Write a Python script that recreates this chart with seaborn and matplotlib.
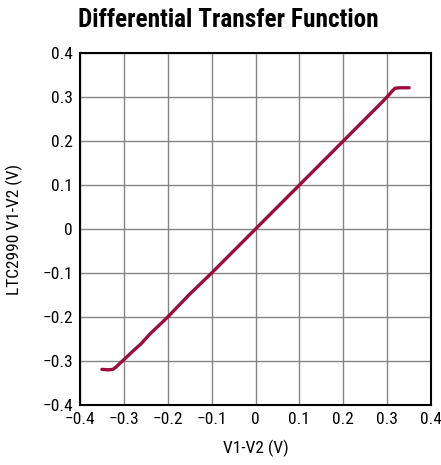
import numpy as np
import pandas as pd
import matplotlib
matplotlib.use("Agg")
import matplotlib.pyplot as plt
import seaborn as sns

# values
v_in = [-0.350, -0.335, -0.325, -0.318, -0.310, -0.300, -0.280, -0.260, -0.240,
        -0.200, -0.150, -0.100, -0.050, 0.000, 0.050, 0.100, 0.150, 0.200,
        0.250, 0.290, 0.305, 0.312, 0.318, 0.330, 0.350]
v_out = [-0.319, -0.320, -0.319, -0.314, -0.306, -0.297, -0.278, -0.260, -0.238,
         -0.200, -0.148, -0.100, -0.050, 0.000, 0.050, 0.100, 0.150, 0.200,
         0.250, 0.290, 0.306, 0.314, 0.320, 0.321, 0.321]
ticks = [-0.4, -0.3, -0.2, -0.1, 0, 0.1, 0.2, 0.3, 0.4]
tick_labels = ["\u22120.4", "\u22120.3", "\u22120.2", "\u22120.1", "0",
               "0.1", "0.2", "0.3", "0.4"]

sns.set_style("white")
plt.rcParams["font.family"] = ["Roboto Condensed", "DejaVu Sans"]
plt.rcParams["text.color"] = "black"
plt.rcParams["axes.labelcolor"] = "black"
plt.rcParams["xtick.color"] = "black"
plt.rcParams["ytick.color"] = "black"

df = pd.DataFrame({"x": v_in, "y": v_out})

fig = plt.figure(figsize=(4.41, 4.65), dpi=100)
ax = fig.add_axes([0.1814, 0.129, 0.796, 0.757])
sns.lineplot(data=df, x="x", y="y", ax=ax, color="#9b0d3b", linewidth=2.4)

ax.set_xlim(-0.4, 0.4)
ax.set_ylim(-0.4, 0.4)
ax.set_xticks(ticks)
ax.set_xticklabels(tick_labels, fontsize=12.5)
ax.set_yticks(ticks)
ax.set_yticklabels(tick_labels, fontsize=12.5)
ax.grid(True, color="#858585", linewidth=1.0)
ax.tick_params(axis="both", direction="out", length=3, width=1, color="black", pad=2)
for s in ax.spines.values():
    s.set_color("black")
    s.set_linewidth(1.5)

ax.set_xlabel("V1-V2 (V)", fontsize=12.5, labelpad=9)
ax.set_ylabel("LTC2990 V1-V2 (V)", fontsize=12.5, labelpad=14)
fig.text(0.517, 0.957, "Differential Transfer Function", ha="center", va="center",
         fontsize=18.2, fontweight="bold")

fig.savefig("out.png", dpi=100)
